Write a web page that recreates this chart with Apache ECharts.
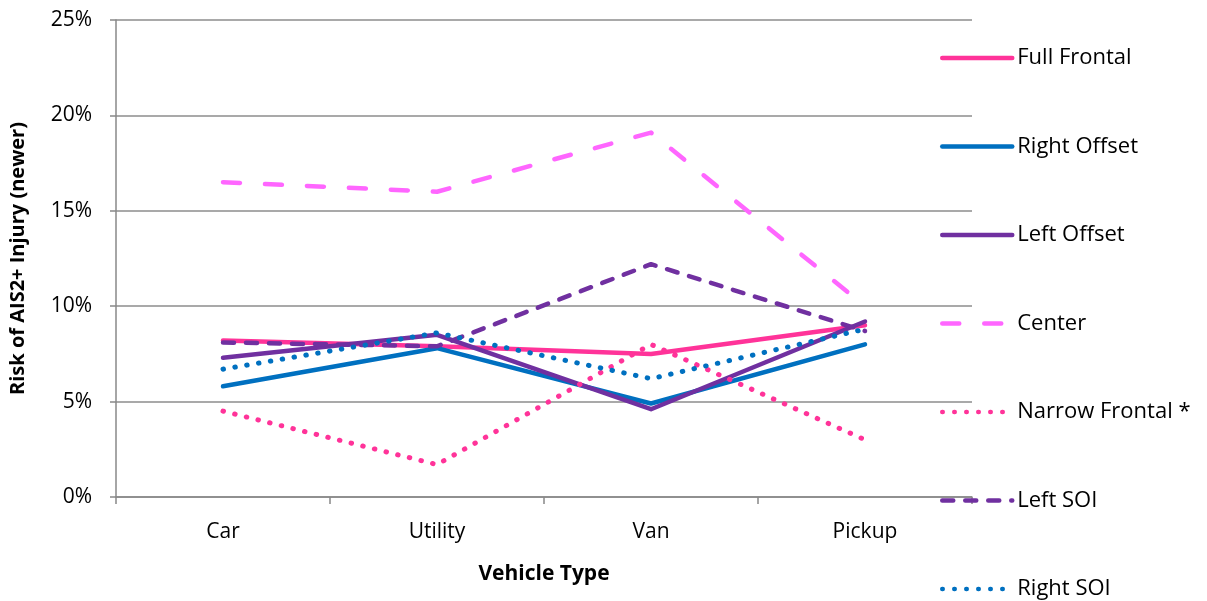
<!DOCTYPE html>
<html>
<head>
<meta charset="utf-8">
<script src="https://cdn.jsdelivr.net/npm/echarts@6/dist/echarts.min.js"></script>
<style>
html, body { margin: 0; padding: 0; background: #fff; }
#chart { width: 1207px; height: 601px; }
</style>
</head>
<body>
<div id="chart"></div>
<script>
// 数据
var categories = ['Car', 'Utility', 'Van', 'Pickup'];
var fullFrontal = [0.082, 0.079, 0.075, 0.090];
var rightOffset = [0.058, 0.078, 0.049, 0.080];
var leftOffset = [0.073, 0.085, 0.046, 0.092];
var center = [0.165, 0.160, 0.191, 0.100];
var narrowFrontal = [0.045, 0.017, 0.080, 0.030];
var leftSOI = [0.081, 0.079, 0.122, 0.087];
var rightSOI = [0.067, 0.086, 0.062, 0.088];
var yTicks = [0, 0.05, 0.10, 0.15, 0.20, 0.25];

var PINK = '#FF3399', BLUE = '#0070C0', PURPLE = '#7030A0', LIGHTPINK = '#FF66FF';
var FONT = '"Open Sans", sans-serif';
var FS = 21;

function makeSeries(name, data, color, dash, width) {
	return {
		name : name,
		type : 'line',
		data : data,
		symbol : 'none',
		lineStyle : {
			color : color,
			width : width,
			type : dash,
			cap : 'round',
			join : 'round'
		},
		itemStyle : {
			color : color
		}
	};
}

var myChart = echarts.init(document.getElementById('chart'));
var option = {
	animation : false,
	backgroundColor : '#fff',
	grid : {
		left : 115,
		right : 235,
		top : 20,
		bottom : 104
	},
	legend : {
		orient : 'vertical',
		left : 935,
		top : 42,
		height : 600,
		itemWidth : 70,
		itemHeight : 14,
		itemGap : 66.5,
		itemStyle : {
			opacity : 0
		},
		lineStyle : {
			width : 4.5
		},
		textStyle : {
			fontFamily : FONT,
			fontSize : 22,
			lineHeight : 22,
			color : '#000'
		},
		data : ['Full Frontal', 'Right Offset', 'Left Offset', 'Center', 'Narrow Frontal *', 'Left SOI', 'Right SOI']
	},
	xAxis : {
		type : 'category',
		data : categories,
		name : 'Vehicle Type',
		nameLocation : 'middle',
		nameGap : 67,
		nameTextStyle : {
			fontFamily : FONT,
			fontSize : FS,
			fontWeight : 'bold',
			color : '#000'
		},
		axisLine : { lineStyle : { color : '#888', width : 1.5 } },
		axisTick : { show : true, length : 7, lineStyle : { color : '#888', width : 1.5 } },
		axisLabel : {
			margin : 25,
			fontFamily : FONT,
			fontSize : FS,
			color : '#000'
		}
	},
	yAxis : {
		type : 'value',
		min : 0,
		max : 0.25,
		interval : 0.05,
		name : 'Risk of AIS2+ Injury (newer)',
		nameLocation : 'middle',
		nameGap : 88,
		nameTextStyle : {
			fontFamily : FONT,
			fontSize : 20,
			fontWeight : 'bold',
			color : '#000'
		},
		axisLine : { show : true, lineStyle : { color : '#888', width : 1.5 } },
		axisTick : { show : true, length : 6, lineStyle : { color : '#888', width : 1.5 } },
		splitLine : { lineStyle : { color : '#8c8c8c', width : 1.5 } },
		axisLabel : {
			margin : 24,
			fontFamily : FONT,
			fontSize : FS,
			color : '#000',
			formatter : function(v) {
				return Math.round(v * 100) + '%';
			}
		}
	},
	series : [
		makeSeries('Full Frontal', fullFrontal, PINK, 'solid', 4.5),
		makeSeries('Right Offset', rightOffset, BLUE, 'solid', 4.5),
		makeSeries('Left Offset', leftOffset, PURPLE, 'solid', 4.5),
		makeSeries('Center', center, LIGHTPINK, [17, 25], 4.5),
		makeSeries('Narrow Frontal *', narrowFrontal, PINK, [0.5, 11.5], 5),
		makeSeries('Left SOI', leftSOI, PURPLE, [11, 12], 4.5),
		makeSeries('Right SOI', rightSOI, BLUE, [0.5, 11.5], 5)
	]
};
myChart.setOption(option);
</script>
</body>
</html>
